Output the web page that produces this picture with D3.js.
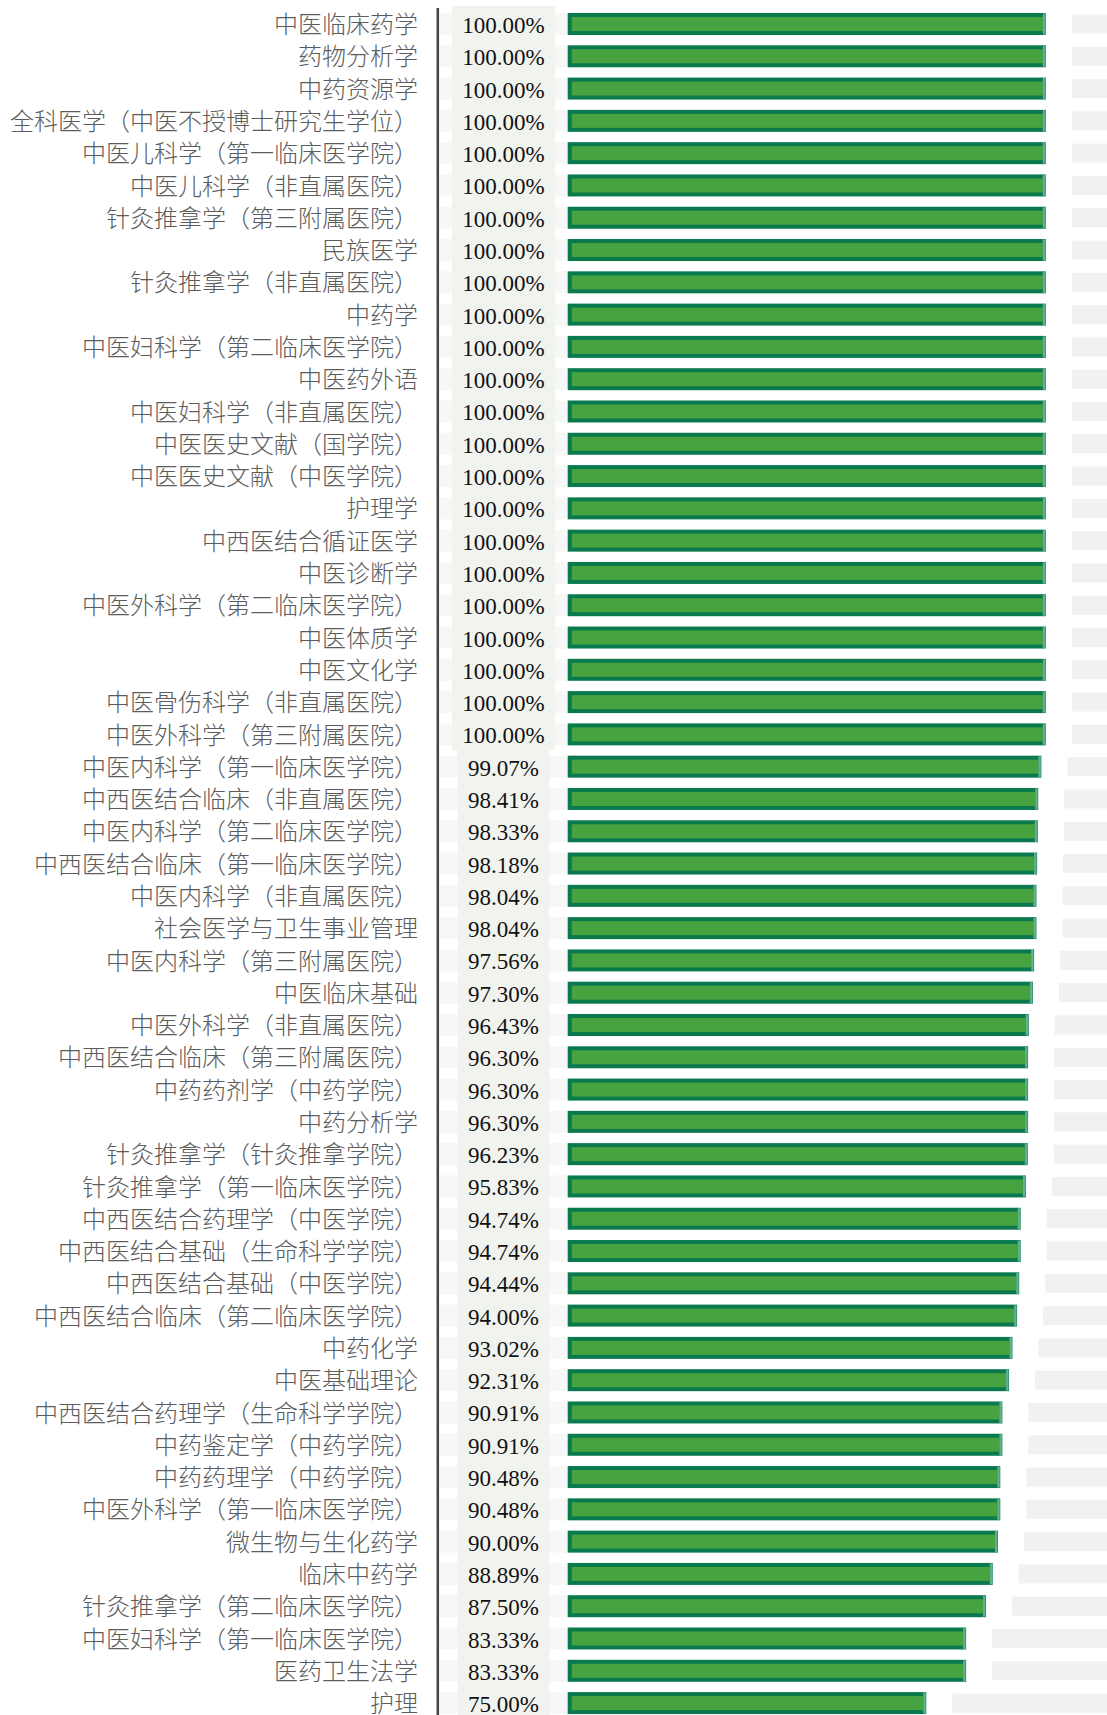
<!DOCTYPE html>
<html>
<head>
<meta charset="utf-8">
<script src="https://cdn.jsdelivr.net/npm/d3@7"></script>
<style>
  html, body { margin: 0; padding: 0; background: #ffffff; overflow: hidden; }
  svg { display: block; }
</style>
</head>
<body>
<div id="chart"></div>
<script>
const categories = [
  "中医临床药学", "药物分析学", "中药资源学", "全科医学（中医不授博士研究生学位）",
  "中医儿科学（第一临床医学院）", "中医儿科学（非直属医院）", "针灸推拿学（第三附属医院）",
  "民族医学", "针灸推拿学（非直属医院）", "中药学", "中医妇科学（第二临床医学院）",
  "中医药外语", "中医妇科学（非直属医院）", "中医医史文献（国学院）", "中医医史文献（中医学院）",
  "护理学", "中西医结合循证医学", "中医诊断学", "中医外科学（第二临床医学院）",
  "中医体质学", "中医文化学", "中医骨伤科学（非直属医院）", "中医外科学（第三附属医院）",
  "中医内科学（第一临床医学院）", "中西医结合临床（非直属医院）", "中医内科学（第二临床医学院）",
  "中西医结合临床（第一临床医学院）", "中医内科学（非直属医院）", "社会医学与卫生事业管理",
  "中医内科学（第三附属医院）", "中医临床基础", "中医外科学（非直属医院）",
  "中西医结合临床（第三附属医院）", "中药药剂学（中药学院）", "中药分析学",
  "针灸推拿学（针灸推拿学院）", "针灸推拿学（第一临床医学院）", "中西医结合药理学（中医学院）",
  "中西医结合基础（生命科学学院）", "中西医结合基础（中医学院）", "中西医结合临床（第二临床医学院）",
  "中药化学", "中医基础理论", "中西医结合药理学（生命科学学院）", "中药鉴定学（中药学院）",
  "中药药理学（中药学院）", "中医外科学（第一临床医学院）", "微生物与生化药学", "临床中药学",
  "针灸推拿学（第二临床医学院）", "中医妇科学（第一临床医学院）", "医药卫生法学", "护理"
];
const values = [
  100, 100, 100, 100, 100, 100, 100, 100, 100, 100, 100, 100, 100, 100, 100, 100, 100, 100, 100,
  100, 100, 100, 100,
  99.07, 98.41, 98.33, 98.18, 98.04, 98.04, 97.56, 97.30, 96.43, 96.30, 96.30, 96.30, 96.23,
  95.83, 94.74, 94.74, 94.44, 94.00, 93.02, 92.31, 90.91, 90.91, 90.48, 90.48, 90.00, 88.89,
  87.50, 83.33, 83.33, 75.00
];
const valueLabels = values.map(v => v.toFixed(2) + "%");

const W = 1107, H = 1715;
const rowStep = 32.29;
const top0 = 24 - rowStep / 2;

const svg = d3.select("#chart").append("svg").attr("width", W).attr("height", H);

const y = d3.scaleBand().domain(categories).range([top0, top0 + rowStep * categories.length]).padding(0);
const x = d3.scaleLinear().domain([0, 100]).range([567.7, 1045.8]);
const cy = c => y(c) + y.bandwidth() / 2;

const data = categories.map((c, i) => ({ c, v: values[i], label: valueLabels[i] }));

// faint row bands between axis and bars
svg.append("g").selectAll("rect").data(data).join("rect")
  .attr("x", 439).attr("width", x(0) - 439)
  .attr("y", d => cy(d.c) - 11).attr("height", 22)
  .attr("fill", "#f7f7f7");

// grey remainder bars on right
svg.append("g").selectAll("rect").data(data).join("rect")
  .attr("x", d => x(d.v) + 26).attr("width", 600)
  .attr("y", d => cy(d.c) - 9.5).attr("height", 19)
  .attr("fill", "#f1f1f1");

// green bars
const bars = svg.append("g").selectAll("g").data(data).join("g");
bars.append("rect")
  .attr("x", x(0)).attr("width", d => x(d.v) - x(0))
  .attr("y", d => cy(d.c) - 11).attr("height", 22)
  .attr("fill", "#0a7a4e");
bars.append("rect")
  .attr("x", x(0) + 4).attr("width", d => x(d.v) - x(0) - 7)
  .attr("y", d => cy(d.c) - 7).attr("height", 14)
  .attr("fill", "#47a33f");
bars.append("rect")
  .attr("x", d => x(d.v) - 3).attr("width", 2.5)
  .attr("y", d => cy(d.c) - 10.5).attr("height", 21)
  .attr("fill", "#62b08f");

// value label boxes + text
const vg = svg.append("g");
const vItems = vg.selectAll("g").data(data).join("g");
const vBoxes = vItems.append("rect")
  .attr("rx", 3).attr("ry", 3)
  .attr("fill", "#f1f3ef");
const vTexts = vItems.append("text")
  .attr("x", 503.5)
  .attr("y", d => cy(d.c) + 9)
  .attr("text-anchor", "middle")
  .attr("font-family", "'Liberation Serif', 'Times New Roman', serif")
  .attr("font-size", 23)
  .attr("fill", "#111")
  .text(d => d.label);
vTexts.each(function(d) {
  const w = this.getComputedTextLength();
  d.bw = w + 21;
});
vBoxes
  .attr("x", d => 503.5 - d.bw / 2).attr("width", d => d.bw)
  .attr("y", d => cy(d.c) - 18).attr("height", 34);
// re-order so text stays on top of neighbouring boxes
vItems.select("text").raise();
vg.selectAll("text").each(function() { vg.node().appendChild(this); });

// category labels
const yAxis = d3.axisLeft(y).tickSize(0).tickPadding(0);
const ag = svg.append("g").attr("transform", "translate(418,0)").call(yAxis);
ag.select(".domain").remove();
ag.selectAll(".tick text")
  .attr("x", 0)
  .attr("dy", "0.38em")
  .attr("font-family", "'Noto Sans CJK SC', 'Noto Sans', sans-serif")
  .attr("font-size", 24)
  .attr("font-weight", 300)
  .attr("fill", "#5c5c5c")
  .attr("text-anchor", "end");

// vertical axis line
svg.append("line")
  .attr("x1", 437.8).attr("x2", 437.8)
  .attr("y1", 8).attr("y2", H)
  .attr("stroke", "#444").attr("stroke-width", 2.5);
</script>
</body>
</html>
